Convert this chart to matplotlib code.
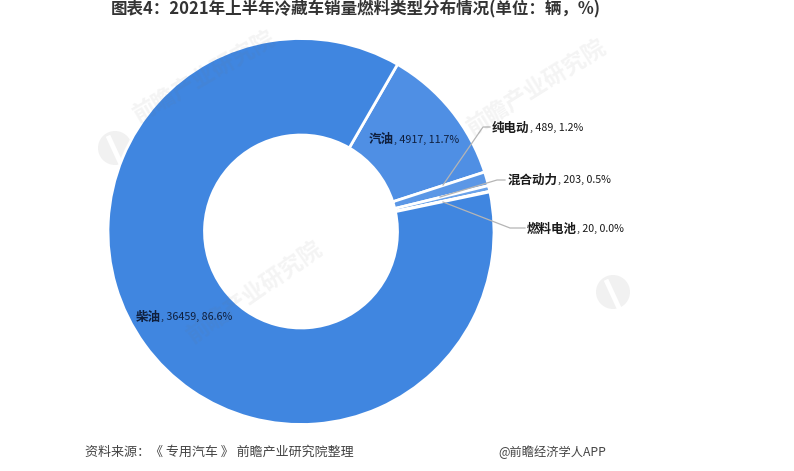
import matplotlib
matplotlib.use("Agg")
from matplotlib import pyplot as plt
from matplotlib.patches import Circle

plt.rcParams['font.family'] = ['Noto Sans CJK SC', 'DejaVu Sans']

fuel_types = ['汽油', '纯电动', '混合动力', '燃料电池', '柴油']
sales = [4917, 489, 203, 20, 36459]
shares = ['11.7%', '1.2%', '0.5%', '0.0%', '86.6%']
colors = ['#4f8fe4', '#5b97e6', '#6ba3ea', '#7aaeee', '#4086e0']

title = '图表4：2021年上半年冷藏车销量燃料类型分布情况(单位：辆，%)'
source = '资料来源：《 专用汽车 》 前瞻产业研究院整理'
credit = '@前瞻经济学人APP'
watermark = '前瞻产业研究院'

W, H = 794, 471
cx, cy, radius = 301, H - 231.5, 193


def put_label(i, x, y, color):
    """bold fuel name, then the plain numbers right after it"""
    name = ax.text(x, H - y, fuel_types[i], fontsize=9, fontweight='bold',
                   ha='left', va='center', color=color)
    box = name.get_window_extent(fig.canvas.get_renderer())
    ax.text(box.x1, H - y, f', {sales[i]}, {shares[i]}', fontsize=7.7,
            ha='left', va='center', color=color)


fig = plt.figure(figsize=(W / 100, H / 100), dpi=100)
ax = fig.add_axes([0, 0, 1, 1])

# logo circles of the watermark, under the pie
for x, y in [(115, 148), (613, 292)]:
    ax.add_patch(Circle((x, H - y), 17, facecolor='#f1f1f1', edgecolor='none', zorder=0))
    ax.plot([x - 6, x + 6], [H - y + 10, H - y - 16], color='white', lw=3.5, zorder=0.5)

ax.pie(sales, colors=colors, center=(cx, cy), radius=radius, startangle=60,
       counterclock=False, wedgeprops=dict(width=radius * 0.5, edgecolor='white', linewidth=2),
       frame=True)
ax.set_xlim(0, W)
ax.set_ylim(0, H)
ax.set_aspect('equal')
ax.axis('off')

# watermarks sit over the wedges
for x, y, rot in [(205, 77, 30), (537, 88, 32), (255, 293, 35)]:
    ax.text(x, H - y, watermark, fontsize=16.5, color='#707070', alpha=0.08, rotation=rot,
            ha='center', va='center', fontweight='bold')

put_label(0, 369, 140, '#0f1f3d')
put_label(4, 136, 317, '#0f1f3d')

# outside labels with bent leader lines
leaders = [
    (1, 492, 128, [443, 483, 490], [185, 127, 127]),
    (2, 508, 180, [440, 497, 505], [197, 180, 180]),
    (3, 527, 229, [443, 510, 525], [202, 228, 228]),
]
for i, tx, ty, xs, ys in leaders:
    ax.plot(xs, [H - y for y in ys], color='#b5b5b5', lw=0.9)
    put_label(i, tx, ty, '#1a1a1a')

ax.text(111, H - 9, title, fontsize=11.9, fontweight='bold', ha='left', va='center', color='#333333')
ax.text(85, H - 452, source, fontsize=9.4, ha='left', va='center', color='#444444')
ax.text(498, H - 452, credit, fontsize=8.8, ha='left', va='center', color='#444444')

fig.savefig('out.png', dpi=100, facecolor='white')
